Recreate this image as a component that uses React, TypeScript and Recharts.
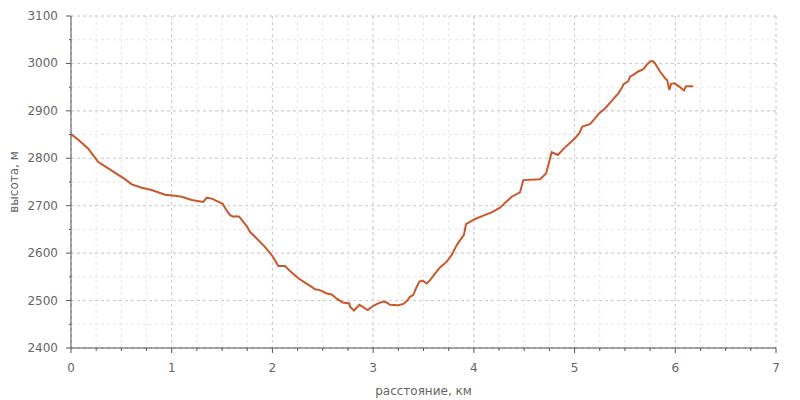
import { LineChart, Line, XAxis, YAxis, CartesianGrid } from 'recharts';

// профиль высоты маршрута
const distanceKm = [
  0, 0.072, 0.172, 0.271, 0.331, 0.47, 0.536, 0.603, 0.702, 0.801, 0.933, 1.033, 1.099, 1.198,
  1.314, 1.347, 1.397, 1.506, 1.539, 1.579, 1.612, 1.638, 1.671, 1.711, 1.745, 1.777, 1.844,
  1.909, 1.959, 2.003, 2.058, 2.125, 2.191, 2.257, 2.323, 2.39, 2.423, 2.472, 2.539, 2.589,
  2.638, 2.698, 2.763, 2.77, 2.81, 2.863, 2.902, 2.946, 3.002, 3.051, 3.101, 3.135, 3.167,
  3.25, 3.3, 3.339, 3.366, 3.399, 3.426, 3.459, 3.492, 3.532, 3.565, 3.614, 3.664, 3.731,
  3.78, 3.83, 3.869, 3.902, 3.922, 4.012, 4.094, 4.177, 4.26, 4.309, 4.376, 4.458, 4.491,
  4.657, 4.717, 4.773, 4.833, 4.905, 5.004, 5.047, 5.077, 5.153, 5.203, 5.246, 5.302, 5.369,
  5.434, 5.468, 5.484, 5.534, 5.551, 5.583, 5.633, 5.683, 5.716, 5.749, 5.776, 5.799, 5.848,
  5.898, 5.921, 5.941, 5.958, 5.991, 6.04, 6.087, 6.107, 6.179,
];

const elevationM = [
  2851, 2839, 2820, 2792, 2784, 2765, 2756, 2745, 2738, 2733, 2723, 2721, 2719, 2712,
  2708, 2717, 2715, 2704, 2692, 2680, 2677, 2678, 2677, 2666, 2657, 2645, 2631,
  2617, 2605, 2593, 2573, 2573, 2559, 2547, 2538, 2529, 2524, 2522, 2515, 2513,
  2504, 2496, 2494, 2487, 2479, 2491, 2486, 2480, 2489, 2494, 2498, 2496, 2491,
  2490, 2493, 2500, 2508, 2512, 2526, 2540, 2542, 2536, 2543, 2557, 2570, 2582,
  2596, 2617, 2629, 2639, 2661, 2672, 2679, 2686, 2696, 2706, 2719, 2728, 2754,
  2756, 2768, 2813, 2807, 2823, 2842, 2853, 2867, 2872, 2884, 2895, 2905, 2921,
  2937, 2948, 2956, 2963, 2972, 2976, 2983, 2988, 2997, 3004, 3005, 3000, 2983,
  2969, 2964, 2944, 2957, 2958, 2951, 2943, 2952, 2952,
];

const xTicks = [
  0, 0.25, 0.5, 0.75, 1, 1.25, 1.5, 1.75, 2, 2.25, 2.5, 2.75, 3, 3.25, 3.5, 3.75, 4, 4.25,
  4.5, 4.75, 5, 5.25, 5.5, 5.75, 6, 6.25, 6.5, 6.75, 7,
];
const yTicks = [
  2400, 2450, 2500, 2550, 2600, 2650, 2700, 2750, 2800, 2850, 2900, 2950, 3000, 3050, 3100,
];
const xMajor = [0, 1, 2, 3, 4, 5, 6, 7];
const yMajor = [2400, 2500, 2600, 2700, 2800, 2900, 3000, 3100];

const data = distanceKm.map((d, i) => ({ d, h: elevationM[i] }));

const FONT = '"DejaVu Sans", sans-serif';
const AXIS = '#555';
const TEXT = '#666';

function XTick({ x, y, payload }: any) {
  const major = Number.isInteger(payload.value);
  return (
    <g>
      <line x1={x} x2={x} y1={y} y2={y + (major ? 5 : 3)} stroke={AXIS} />
      {major && (
        <text x={x} y={y + 24} textAnchor="middle" fontSize={12} fill={TEXT} fontFamily={FONT}>
          {payload.value}
        </text>
      )}
    </g>
  );
}

function YTick({ x, y, payload }: any) {
  const major = payload.value % 100 === 0;
  return (
    <g>
      <line x1={x - (major ? 5 : 2)} x2={x} y1={y} y2={y} stroke={AXIS} />
      {major && (
        <text x={x - 13} y={y + 4} textAnchor="end" fontSize={12} fill={TEXT} fontFamily={FONT}>
          {payload.value}
        </text>
      )}
    </g>
  );
}

export default function App() {
  return (
    <div style={{ position: 'absolute', left: 0, top: 0, width: 800, height: 400, background: '#fff' }}>
      <LineChart width={800} height={400} data={data} margin={{ top: 16, right: 24, bottom: 22, left: 0 }}>
        <CartesianGrid
          stroke="#e6e6e6"
          strokeDasharray="3 3"
          verticalValues={xTicks}
          horizontalValues={yTicks}
        />
        <CartesianGrid
          stroke="#cccccc"
          strokeDasharray="3 3"
          verticalValues={xMajor}
          horizontalValues={yMajor}
        />
        <XAxis
          type="number"
          dataKey="d"
          domain={[0, 7]}
          ticks={xTicks}
          interval={0}
          height={30}
          tickSize={0}
          tickMargin={0}
          tickLine={false}
          axisLine={{ stroke: AXIS }}
          tick={<XTick />}
          label={{
            content: ({ viewBox }: any) => (
              <text
                x={viewBox.x + viewBox.width / 2}
                y={395}
                textAnchor="middle"
                fontSize={12}
                fill={TEXT}
                fontFamily={FONT}
              >
                расстояние, км
              </text>
            ),
          }}
        />
        <YAxis
          type="number"
          domain={[2400, 3100]}
          ticks={yTicks}
          interval={0}
          width={71}
          tickSize={0}
          tickMargin={0}
          tickLine={false}
          axisLine={{ stroke: AXIS }}
          tick={<YTick />}
          label={{
            content: ({ viewBox }: any) => {
              const cy = viewBox.y + viewBox.height / 2;
              return (
                <text
                  x={18}
                  y={cy}
                  transform={`rotate(-90 18 ${cy})`}
                  textAnchor="middle"
                  fontSize={12}
                  fill={TEXT}
                  fontFamily={FONT}
                >
                  высота, м
                </text>
              );
            },
          }}
        />
        <Line
          type="linear"
          dataKey="h"
          stroke="#c9582b"
          strokeWidth={2}
          dot={false}
          isAnimationActive={false}
        />
      </LineChart>
    </div>
  );
}
